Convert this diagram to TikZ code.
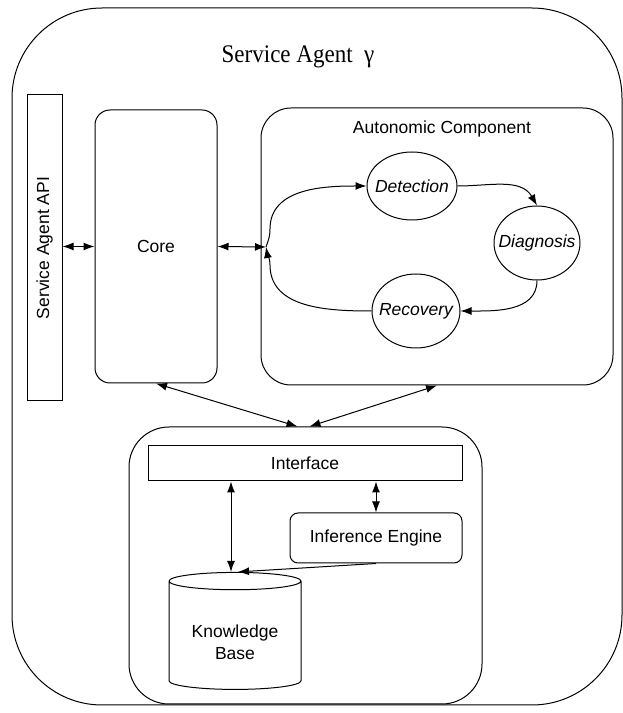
\documentclass[tikz,border=0pt]{standalone}
\usepackage{fontspec}
\setmainfont{Liberation Serif}
\setsansfont{Liberation Sans}
\usetikzlibrary{arrows.meta,shapes.geometric}
\begin{document}
\begin{tikzpicture}[x=1pt,y=1pt,line width=1pt,
	lbl/.style={font=\sffamily\fontsize{17.5}{22}\selectfont},
	blk/.style={draw,lbl,inner sep=0pt},
	phase/.style={draw,ellipse,inner sep=0pt},
	phaselbl/.style={font=\sffamily\itshape\fontsize{17.5}{22}\selectfont},
	tip/.style={-{Latex[length=11pt,width=8pt]}},
	bitip/.style={{Latex[length=11pt,width=8pt]}-{Latex[length=11pt,width=8pt]}}]
	\useasboundingbox (0,0) rectangle (623,713);
	\draw[rounded corners=90pt] (12,8) rectangle (622,705);
	\node[font=\fontsize{23}{26}\selectfont,yscale=1.1] (title) at (298,656) {Service Agent\ \ γ};
	\node[blk,minimum width=35pt,minimum height=306pt] (api) at (44.5,465) {};
	\node[lbl,rotate=90] (apilabel) at (api) {Service Agent API};
	\node[blk,rounded corners=15pt,minimum width=122pt,minimum height=273pt] (core) at (156,466.5) {Core};
	\node[blk,rounded corners=30pt,minimum width=352pt,minimum height=277pt] (auto) at (437,466.5) {};
	\node[lbl] (autolabel) at (442,584) {Autonomic Component};
	\node[phase,minimum width=90pt,minimum height=68pt,label={[phaselbl]center:Detection}] (det) at (412,527) {};
	\node[phase,minimum width=86pt,minimum height=74pt,label={[phaselbl]center:Diagnosis}] (diag) at (537,470) {};
	\node[phase,minimum width=88pt,minimum height=74pt,label={[phaselbl]center:Recovery}] (rec) at (416,402) {};
	\coordinate (junc) at (266,466);
	\node[blk,rounded corners=40pt,minimum width=353pt,minimum height=277pt] (kbox) at (305.5,147.5) {};
	\node[blk,minimum width=314pt,minimum height=35pt] (iface) at (305,249.5) {Interface};
	\node[blk,rounded corners=8pt,minimum width=172pt,minimum height=50pt] (inf) at (376,175) {Inference Engine};
	\node[blk,cylinder,shape border rotate=90,aspect=0.2,minimum width=132pt,minimum height=117pt] (kb) at (235,77.5)
		{\raisebox{-9pt}[\height][\depth]{\begin{tabular}{@{}c@{}}Knowledge\\Base\end{tabular}}};
	\draw[bitip] (api.east |- core.west) -- (core.west);
	\draw[bitip] (core.east) -- (junc);
	\draw[tip] (junc) to[out=70,in=-90] ([shift={(4,18)}]junc) to[out=90,in=180] (det.west);
	\draw[tip] (rec.west) to[out=180,in=-90] ([shift={(4,-18)}]junc) to[out=90,in=-80] (junc);
	\draw[tip] (det.east) to[out=0,in=120] (diag.north);
	\draw[tip] (diag.south) to[out=-90,in=0] (rec.east);
	\draw[bitip] (core.south) -- ([xshift=-8pt]kbox.north);
	\draw[bitip] (auto.south) -- ([xshift=4pt]kbox.north);
	\draw[bitip] ([xshift=-4pt]kb.north |- iface.south) -- ([xshift=-4pt]kb.north);
	\draw[bitip] (iface.south -| inf.north) -- (inf.north);
	\draw[tip] (inf.south) -- ([xshift=3pt]kb.north);
\end{tikzpicture}
\end{document}
